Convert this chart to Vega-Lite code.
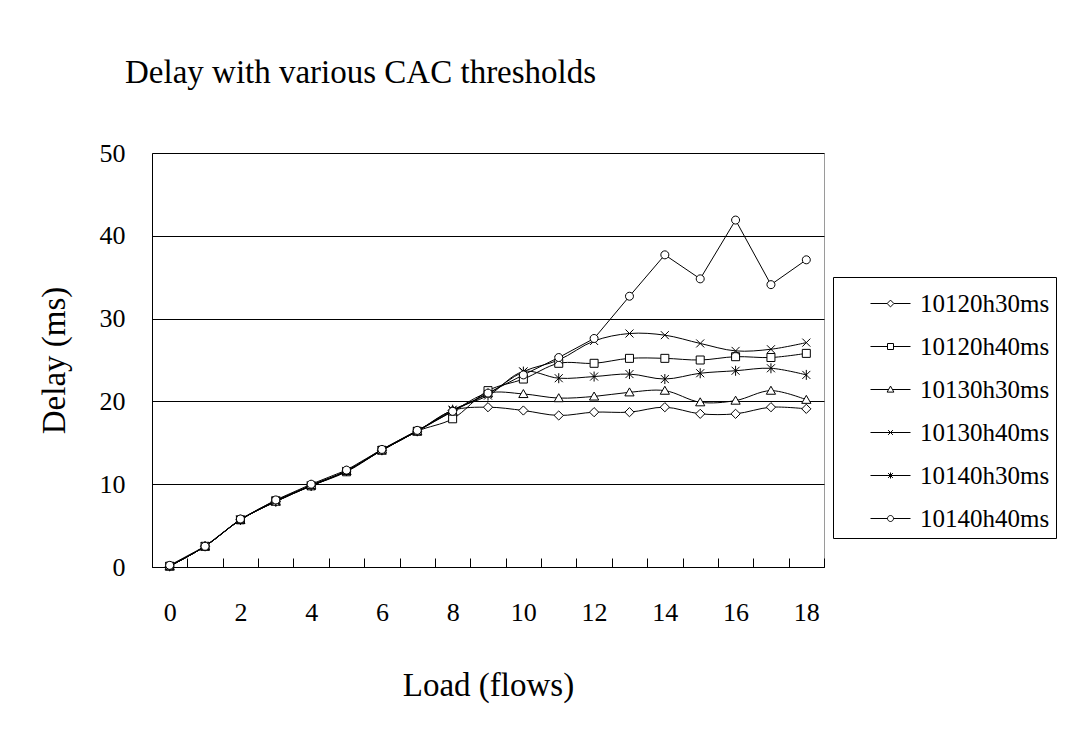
{
  "$schema": "https://vega.github.io/schema/vega-lite/v6.json",
  "width": 672,
  "height": 414,
  "autosize": {"type": "none"},
  "padding": {"left": 152, "top": 153, "right": 262, "bottom": 162},
  "background": "white",
  "title": {
    "text": "Delay with various CAC thresholds",
    "anchor": "start",
    "frame": "group",
    "dx": -27,
    "offset": 50,
    "font": "Liberation Serif",
    "fontSize": 33,
    "fontWeight": "normal",
    "color": "black"
  },
  "config": {
    "view": {"stroke": "#9a9a9a", "strokeWidth": 1},
    "font": "Liberation Serif",
    "axis": {
      "domainColor": "black",
      "domainWidth": 1,
      "labelColor": "black",
      "titleColor": "black",
      "labelFont": "Liberation Serif",
      "titleFont": "Liberation Serif",
      "titleFontWeight": "normal",
      "tickColor": "black"
    }
  },
  "data": {
    "values": [
      {"load": 0, "delay": 0.1, "series": "10120h30ms"},
      {"load": 1, "delay": 2.5, "series": "10120h30ms"},
      {"load": 2, "delay": 5.7, "series": "10120h30ms"},
      {"load": 3, "delay": 7.9, "series": "10120h30ms"},
      {"load": 4, "delay": 9.8, "series": "10120h30ms"},
      {"load": 5, "delay": 11.6, "series": "10120h30ms"},
      {"load": 6, "delay": 14.1, "series": "10120h30ms"},
      {"load": 7, "delay": 16.4, "series": "10120h30ms"},
      {"load": 8, "delay": 18.9, "series": "10120h30ms"},
      {"load": 9, "delay": 19.3, "series": "10120h30ms"},
      {"load": 10, "delay": 18.9, "series": "10120h30ms"},
      {"load": 11, "delay": 18.3, "series": "10120h30ms"},
      {"load": 12, "delay": 18.7, "series": "10120h30ms"},
      {"load": 13, "delay": 18.7, "series": "10120h30ms"},
      {"load": 14, "delay": 19.3, "series": "10120h30ms"},
      {"load": 15, "delay": 18.5, "series": "10120h30ms"},
      {"load": 16, "delay": 18.5, "series": "10120h30ms"},
      {"load": 17, "delay": 19.3, "series": "10120h30ms"},
      {"load": 18, "delay": 19.1, "series": "10120h30ms"},

      {"load": 0, "delay": 0.1, "series": "10120h40ms"},
      {"load": 1, "delay": 2.5, "series": "10120h40ms"},
      {"load": 2, "delay": 5.7, "series": "10120h40ms"},
      {"load": 3, "delay": 8.0, "series": "10120h40ms"},
      {"load": 4, "delay": 9.8, "series": "10120h40ms"},
      {"load": 5, "delay": 11.5, "series": "10120h40ms"},
      {"load": 6, "delay": 14.1, "series": "10120h40ms"},
      {"load": 7, "delay": 16.4, "series": "10120h40ms"},
      {"load": 8, "delay": 17.9, "series": "10120h40ms"},
      {"load": 9, "delay": 21.3, "series": "10120h40ms"},
      {"load": 10, "delay": 22.7, "series": "10120h40ms"},
      {"load": 11, "delay": 24.6, "series": "10120h40ms"},
      {"load": 12, "delay": 24.6, "series": "10120h40ms"},
      {"load": 13, "delay": 25.2, "series": "10120h40ms"},
      {"load": 14, "delay": 25.2, "series": "10120h40ms"},
      {"load": 15, "delay": 25.0, "series": "10120h40ms"},
      {"load": 16, "delay": 25.4, "series": "10120h40ms"},
      {"load": 17, "delay": 25.3, "series": "10120h40ms"},
      {"load": 18, "delay": 25.8, "series": "10120h40ms"},

      {"load": 0, "delay": 0.1, "series": "10130h30ms"},
      {"load": 1, "delay": 2.5, "series": "10130h30ms"},
      {"load": 2, "delay": 5.7, "series": "10130h30ms"},
      {"load": 3, "delay": 7.9, "series": "10130h30ms"},
      {"load": 4, "delay": 9.9, "series": "10130h30ms"},
      {"load": 5, "delay": 11.6, "series": "10130h30ms"},
      {"load": 6, "delay": 14.2, "series": "10130h30ms"},
      {"load": 7, "delay": 16.4, "series": "10130h30ms"},
      {"load": 8, "delay": 18.8, "series": "10130h30ms"},
      {"load": 9, "delay": 21.0, "series": "10130h30ms"},
      {"load": 10, "delay": 20.9, "series": "10130h30ms"},
      {"load": 11, "delay": 20.4, "series": "10130h30ms"},
      {"load": 12, "delay": 20.6, "series": "10130h30ms"},
      {"load": 13, "delay": 21.1, "series": "10130h30ms"},
      {"load": 14, "delay": 21.3, "series": "10130h30ms"},
      {"load": 15, "delay": 19.9, "series": "10130h30ms"},
      {"load": 16, "delay": 20.1, "series": "10130h30ms"},
      {"load": 17, "delay": 21.3, "series": "10130h30ms"},
      {"load": 18, "delay": 20.2, "series": "10130h30ms"},

      {"load": 0, "delay": 0.1, "series": "10130h40ms"},
      {"load": 1, "delay": 2.5, "series": "10130h40ms"},
      {"load": 2, "delay": 5.7, "series": "10130h40ms"},
      {"load": 3, "delay": 8.0, "series": "10130h40ms"},
      {"load": 4, "delay": 9.8, "series": "10130h40ms"},
      {"load": 5, "delay": 11.6, "series": "10130h40ms"},
      {"load": 6, "delay": 14.1, "series": "10130h40ms"},
      {"load": 7, "delay": 16.4, "series": "10130h40ms"},
      {"load": 8, "delay": 18.9, "series": "10130h40ms"},
      {"load": 9, "delay": 20.9, "series": "10130h40ms"},
      {"load": 10, "delay": 23.6, "series": "10130h40ms"},
      {"load": 11, "delay": 25.0, "series": "10130h40ms"},
      {"load": 12, "delay": 27.3, "series": "10130h40ms"},
      {"load": 13, "delay": 28.2, "series": "10130h40ms"},
      {"load": 14, "delay": 28.0, "series": "10130h40ms"},
      {"load": 15, "delay": 27.0, "series": "10130h40ms"},
      {"load": 16, "delay": 26.1, "series": "10130h40ms"},
      {"load": 17, "delay": 26.3, "series": "10130h40ms"},
      {"load": 18, "delay": 27.1, "series": "10130h40ms"},

      {"load": 0, "delay": 0.1, "series": "10140h30ms"},
      {"load": 1, "delay": 2.5, "series": "10140h30ms"},
      {"load": 2, "delay": 5.7, "series": "10140h30ms"},
      {"load": 3, "delay": 7.9, "series": "10140h30ms"},
      {"load": 4, "delay": 9.8, "series": "10140h30ms"},
      {"load": 5, "delay": 11.6, "series": "10140h30ms"},
      {"load": 6, "delay": 14.1, "series": "10140h30ms"},
      {"load": 7, "delay": 16.4, "series": "10140h30ms"},
      {"load": 8, "delay": 19.0, "series": "10140h30ms"},
      {"load": 9, "delay": 20.7, "series": "10140h30ms"},
      {"load": 10, "delay": 23.6, "series": "10140h30ms"},
      {"load": 11, "delay": 22.8, "series": "10140h30ms"},
      {"load": 12, "delay": 23.0, "series": "10140h30ms"},
      {"load": 13, "delay": 23.3, "series": "10140h30ms"},
      {"load": 14, "delay": 22.7, "series": "10140h30ms"},
      {"load": 15, "delay": 23.4, "series": "10140h30ms"},
      {"load": 16, "delay": 23.7, "series": "10140h30ms"},
      {"load": 17, "delay": 24.0, "series": "10140h30ms"},
      {"load": 18, "delay": 23.2, "series": "10140h30ms"},

      {"load": 0, "delay": 0.2, "series": "10140h40ms"},
      {"load": 1, "delay": 2.5, "series": "10140h40ms"},
      {"load": 2, "delay": 5.8, "series": "10140h40ms"},
      {"load": 3, "delay": 8.1, "series": "10140h40ms"},
      {"load": 4, "delay": 10.0, "series": "10140h40ms"},
      {"load": 5, "delay": 11.7, "series": "10140h40ms"},
      {"load": 6, "delay": 14.2, "series": "10140h40ms"},
      {"load": 7, "delay": 16.5, "series": "10140h40ms"},
      {"load": 8, "delay": 18.8, "series": "10140h40ms"},
      {"load": 9, "delay": 21.0, "series": "10140h40ms"},
      {"load": 10, "delay": 23.2, "series": "10140h40ms"},
      {"load": 11, "delay": 25.3, "series": "10140h40ms"},
      {"load": 12, "delay": 27.6, "series": "10140h40ms"},
      {"load": 13, "delay": 32.7, "series": "10140h40ms"},
      {"load": 14, "delay": 37.7, "series": "10140h40ms"},
      {"load": 15, "delay": 34.8, "series": "10140h40ms"},
      {"load": 16, "delay": 41.9, "series": "10140h40ms"},
      {"load": 17, "delay": 34.1, "series": "10140h40ms"},
      {"load": 18, "delay": 37.1, "series": "10140h40ms"}
    ]
  },
  "resolve": {"scale": {"shape": "independent"}, "axis": {"x": "independent"}},
  "layer": [
    {
      "transform": [{"filter": "datum.series !== '10140h40ms'"}],
      "mark": {"type": "line", "interpolate": "catmull-rom", "color": "black", "strokeWidth": 1},
      "encoding": {
        "x": {
          "field": "load", "type": "quantitative",
          "scale": {"domain": [-0.5, 18.5], "nice": false, "zero": false},
          "axis": {
            "orient": "bottom",
            "values": [-0.5, 0.5, 1.5, 2.5, 3.5, 4.5, 5.5, 6.5, 7.5, 8.5, 9.5, 10.5, 11.5, 12.5, 13.5, 14.5, 15.5, 16.5, 17.5, 18.5],
            "labels": false, "ticks": true, "tickSize": -9, "grid": false, "title": null, "domain": true
          }
        },
        "y": {
          "field": "delay", "type": "quantitative",
          "scale": {"domain": [0, 50], "nice": false},
          "axis": {
            "values": [0, 10, 20, 30, 40, 50],
            "grid": true, "gridColor": "black", "gridOpacity": 1, "gridWidth": 1,
            "ticks": false, "labelPadding": 27, "labelFontSize": 26,
            "title": "Delay (ms)", "titleFontSize": 33, "titlePadding": 28
          }
        },
        "detail": {"field": "series"}
      }
    },
    {
      "transform": [{"filter": "datum.series === '10140h40ms'"}],
      "mark": {"type": "line", "color": "black", "strokeWidth": 1},
      "encoding": {
        "x": {"field": "load", "type": "quantitative", "axis": null},
        "y": {"field": "delay", "type": "quantitative"},
        "detail": {"field": "series"}
      }
    },
    {
      "mark": {"type": "point", "size": 64, "fill": "white", "stroke": "black", "strokeWidth": 1, "opacity": 1, "filled": true},
      "encoding": {
        "x": {
          "field": "load", "type": "quantitative",
          "axis": {
            "orient": "bottom",
            "values": [0, 2, 4, 6, 8, 10, 12, 14, 16, 18],
            "ticks": false, "domain": false, "grid": false,
            "labelPadding": 32, "labelFontSize": 26,
            "title": "Load (flows)", "titleFontSize": 33, "titlePadding": 44
          }
        },
        "y": {"field": "delay", "type": "quantitative"},
        "shape": {
          "field": "series", "type": "nominal", "legend": null,
          "scale": {
            "domain": ["10120h30ms", "10120h40ms", "10130h30ms", "10130h40ms", "10140h30ms", "10140h40ms"],
            "range": [
              "M0,-1.15L1.15,0L0,1.15L-1.15,0Z",
              "M-1,-1L1,-1L1,1L-1,1Z",
              "M0,-1.1L1.15,0.9L-1.15,0.9Z",
              "M-1,-1L1,1M-1,1L1,-1",
              "M-1,-1L1,1M-1,1L1,-1M0,-1.25L0,1.25",
              "M-1,0A1,1,0,1,1,1,0A1,1,0,1,1,-1,0Z"
            ]
          }
        }
      }
    },
    {
      "mark": {"type": "point", "opacity": 0, "color": "black", "filled": false},
      "encoding": {
        "x": {"field": "load", "type": "quantitative", "axis": null},
        "y": {"field": "delay", "type": "quantitative"},
        "shape": {
          "field": "series", "type": "nominal",
          "scale": {
            "domain": ["10120h30ms", "10120h40ms", "10130h30ms", "10130h40ms", "10140h30ms", "10140h40ms"],
            "range": [
              "M-1,0L-0.17,0M0.17,0L1,0M0,-0.17L0.17,0L0,0.17L-0.17,0Z",
              "M-1,0L-0.15,0M0.15,0L1,0M-0.15,-0.15L0.15,-0.15L0.15,0.15L-0.15,0.15Z",
              "M-1,0L-0.1,0M0.1,0L1,0M0,-0.17L0.17,0.13L-0.17,0.13Z",
              "M-1,0L1,0M-0.12,-0.12L0.12,0.12M-0.12,0.12L0.12,-0.12",
              "M-1,0L1,0M-0.12,-0.12L0.12,0.12M-0.12,0.12L0.12,-0.12M0,-0.15L0,0.15",
              "M-1,0L-0.15,0M0.15,0L1,0M-0.15,0A0.15,0.15,0,1,1,0.15,0A0.15,0.15,0,1,1,-0.15,0Z"
            ]
          },
          "legend": {
            "orient": "none",
            "legendX": 681,
            "legendY": 124,
            "title": null,
            "strokeColor": "black",
            "fillColor": "white",
            "padding": 6,
            "symbolSize": 1600,
            "symbolOffset": 31,
            "labelOffset": 9,
            "rowPadding": 9,
            "labelFont": "Liberation Serif",
            "labelFontSize": 25,
            "labelColor": "black",
            "symbolStrokeColor": "black",
            "symbolFillColor": "white",
            "symbolStrokeWidth": 1,
            "symbolOpacity": 1,
            "encode": {
              "symbols": {
                "update": {
                  "opacity": {"value": 1},
                  "strokeOpacity": {"value": 1},
                  "stroke": {"value": "black"},
                  "fill": {"value": "white"}
                }
              }
            }
          }
        }
      }
    }
  ]
}
